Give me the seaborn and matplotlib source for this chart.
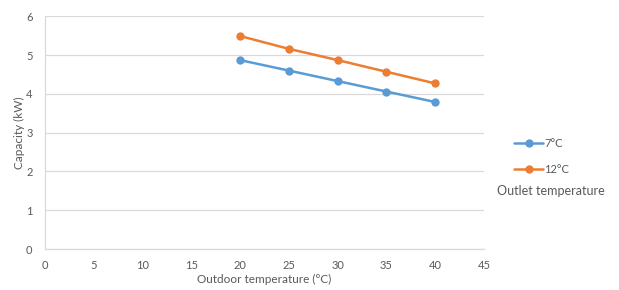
import pandas as pd
import matplotlib
matplotlib.use("Agg")
import matplotlib.pyplot as plt
import seaborn as sns

# Data
outdoor_temp = [20, 25, 30, 35, 40]
cap_7c = [4.87, 4.60, 4.33, 4.06, 3.79]
cap_12c = [5.49, 5.16, 4.87, 4.57, 4.27]
series_names = ["7°C", "12°C"]

df = pd.DataFrame({
    "Outdoor": outdoor_temp * 2,
    "Capacity": cap_7c + cap_12c,
    "Series": [series_names[0]] * 5 + [series_names[1]] * 5,
})

sns.set_style("white")
plt.rcParams["font.family"] = ["Lato", "DejaVu Sans"]
text_color = "#595959"

fig = plt.figure(figsize=(6.19, 2.90), dpi=100)
ax = fig.add_axes([0.0727, 0.141, 0.709, 0.803])

sns.lineplot(
    data=df,
    x="Outdoor",
    y="Capacity",
    hue="Series",
    palette=["#5B9BD5", "#ED7D31"],
    marker="o",
    markersize=6,
    markeredgewidth=0,
    linewidth=1.8,
    ax=ax,
)

ax.set_xlim(0, 45)
ax.set_ylim(0, 6)
ax.set_xticks(range(0, 46, 5))
ax.set_yticks(range(0, 7))
ax.yaxis.grid(True, color="#D9D9D9", linewidth=0.9)
ax.set_axisbelow(True)
for side in ["top", "right"]:
    ax.spines[side].set_visible(False)
for side in ["left", "bottom"]:
    ax.spines[side].set_color("#D9D9D9")
    ax.spines[side].set_linewidth(0.9)
ax.tick_params(length=0, labelsize=8, colors=text_color)
ax.tick_params(axis="x", pad=8)
ax.tick_params(axis="y", pad=9)
ax.set_xlabel("Outdoor temperature (°C)", fontsize=8.5, color=text_color, labelpad=2)
ax.set_ylabel("Capacity (kW)", fontsize=8.5, color=text_color, labelpad=1)

handles, labels = ax.get_legend_handles_labels()
ax.get_legend().remove()
fig.legend(
    handles, labels,
    loc="upper left",
    bbox_to_anchor=(0.815, 0.56),
    frameon=False,
    fontsize=8,
    labelcolor=text_color,
    handlelength=2.6,
    handletextpad=0.1,
    labelspacing=1.35,
)
fig.text(0.803, 0.34, "Outlet temperature", fontsize=9, color=text_color, va="center")

fig.savefig("out.png", dpi=100)
